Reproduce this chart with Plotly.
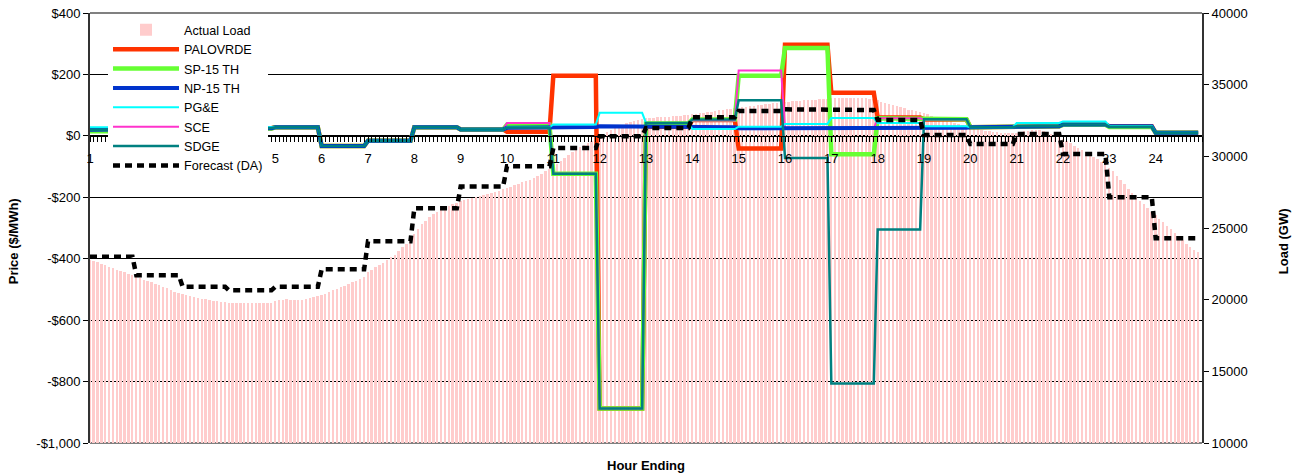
import numpy as np
import plotly.graph_objects as go

# ---------------- data ----------------
hours = list(range(1, 25))
hour_labels = ["1", "", "", "", "5", "6", "7", "8", "9", "10", "11", "12", "13", "14", "15",
               "16", "17", "18", "19", "20", "21", "22", "23", "24"]
intervals_per_hour = 12

# Actual load (GW), 5-minute intervals, one row per hour
actual_load_rows = [
    [22800, 22700, 22600, 22500, 22420, 22300, 22200, 22100, 22000, 21900, 21800, 21700],
    [21600, 21500, 21400, 21300, 21200, 21100, 21000, 20900, 20800, 20650, 20550, 20450],
    [20400, 20330, 20270, 20200, 20140, 20080, 20030, 19980, 19930, 19890, 19850, 19820],
    [19800, 19780, 19760, 19750, 19750, 19750, 19750, 19750, 19750, 19750, 19750, 19780],
    [19900, 19950, 20000, 20020, 20000, 19980, 20000, 20000, 20050, 20100, 20180, 20260],
    [20330, 20430, 20540, 20650, 20760, 20870, 20980, 21100, 21200, 21320, 21440, 21550],
    [21950, 22100, 22250, 22400, 22550, 22750, 22950, 23150, 23400, 23650, 23900, 24200],
    [24600, 24950, 25250, 25500, 25750, 25950, 26150, 26300, 26450, 26550, 26650, 26750],
    [26850, 26920, 27000, 27080, 27150, 27220, 27280, 27350, 27420, 27500, 27600, 27700],
    [27780, 27880, 27980, 28080, 28180, 28280, 28380, 28500, 28650, 28800, 28950, 29120],
    [29300, 29500, 29700, 29900, 30100, 30300, 30480, 30650, 30800, 30950, 31100, 31250],
    [31400, 31550, 31700, 31850, 31980, 32100, 32200, 32300, 32380, 32450, 32520, 32580],
    [32650, 32670, 32690, 32710, 32730, 32750, 32770, 32790, 32810, 32830, 32850, 32870],
    [32920, 32960, 33000, 33040, 33080, 33120, 33160, 33200, 33240, 33280, 33320, 33360],
    [33400, 33420, 33450, 33480, 33510, 33550, 33580, 33620, 33660, 33700, 33740, 33770],
    [33800, 33820, 33840, 33860, 33880, 33900, 33920, 33940, 33960, 33980, 34000, 34020],
    [34050, 34060, 34070, 34080, 34080, 34080, 34080, 34070, 34060, 34040, 34010, 33980],
    [33900, 33820, 33740, 33660, 33580, 33500, 33420, 33340, 33260, 33200, 33150, 33100],
    [33000, 32920, 32840, 32760, 32680, 32600, 32520, 32440, 32360, 32280, 32200, 32120],
    [32040, 31960, 31880, 31820, 31780, 31740, 31700, 31680, 31660, 31640, 31630, 31620],
    [31650, 31700, 31750, 31800, 31830, 31850, 31840, 31800, 31700, 31580, 31450, 31330],
    [31200, 31050, 30900, 30750, 30600, 30450, 30300, 30150, 29980, 29800, 29620, 29430],
    [29200, 28950, 28650, 28350, 28050, 27750, 27450, 27150, 26900, 26650, 26400, 26150],
    [25900, 25650, 25400, 25150, 24900, 24650, 24400, 24150, 23900, 23700, 23500, 23300],
]

# Hourly prices ($/MWh)
palovrde = [20, 22, 24, 25, 28, -33, -16, 28, 21, 13, 196, -888, 30, 52, -41, 297, 140, 60, 53, 28, 31, 37, 31, 10]
sp15_th = [15, 20, 22, 24, 28, -33, -16, 28, 21, 36, -123, -888, 40, 53, 196, 286, -60, 57, 54, 28, 31, 36, 29, 10]
np15_th = [20, 22, 24, 25, 28, -33, -16, 28, 21, 26, 29, 31, 29, 28, 25, 24, 24, 24, 26, 28, 31, 37, 31, 10]
pge = [28, 26, 26, 26, 28, -33, -16, 28, 21, 28, 37, 75, 42, 22, 30, 39, 58, 42, 31, 28, 42, 47, 32, 10]
sce = [22, 23, 24, 25, 28, -33, -16, 28, 21, 42, -123, -888, 42, 50, 213, 24, 24, 57, 53, 28, 31, 37, 31, 10]
sdge = [20, 22, 24, 25, 28, -33, -16, 28, 21, 27, -123, -888, 42, 53, 116, -72, -806, -305, 54, 28, 31, 37, 30, 10]

# Day-ahead load forecast (GW), hourly
forecast_da = [23000, 21700, 20900, 20650, 20900, 22120, 24070, 26370, 27900, 29300, 30580, 31400,
               31980, 32720, 33160, 33280, 33230, 32540, 31490, 30860, 31560, 30160, 27140, 24280]

price_ticks = [400, 200, 0, -200, -400, -600, -800, -1000]
price_tick_labels = ["$400", "$200", "$0", "-$200", "-$400", "-$600", "-$800", "-$1,000"]
load_ticks = [10000, 15000, 20000, 25000, 30000, 35000, 40000]

# ---------------- build ----------------
n = len(hours) * intervals_per_hour
x5 = hours[0] + np.arange(n) / intervals_per_hour
actual_load = np.array(actual_load_rows).ravel()


def to5(v):
    return np.repeat(np.array(v, dtype=float), intervals_per_hour)


FONT = "Arial, Liberation Sans, sans-serif"

fig = go.Figure()
fig.add_trace(go.Bar(x=x5, y=actual_load, width=1 / 24, name="Actual Load",
                     marker=dict(color="#FFCCCC", line=dict(width=0)),
                     yaxis="y", legendrank=1))

series = [
    ("PALOVRDE", palovrde, "#FF3300", 4.5, 2),
    ("SP-15 TH", sp15_th, "#66FF33", 4.5, 3),
    ("SCE", sce, "#FF33CC", 2, 6),
    ("NP-15 TH", np15_th, "#0033CC", 4, 4),
    ("PG&E", pge, "#00FFFF", 2, 5),
    ("SDGE", sdge, "#008080", 2.5, 7),
]
for name, vals, col, w, rank in series:
    fig.add_trace(go.Scatter(x=x5, y=to5(vals), name=name, mode="lines",
                             line=dict(color=col, width=w), yaxis="y2", legendrank=rank))

fig.add_trace(go.Scatter(x=x5, y=to5(forecast_da), name="Forecast (DA)", mode="lines",
                         line=dict(color="black", width=4.5, dash="7px,5px"),
                         yaxis="y3", legendrank=8))

pmin, pmax = -1000, 400
zero_pos = (0 - pmin) / (pmax - pmin)

fig.update_layout(
    width=1299, height=476,
    autosize=False,
    margin=dict(l=90, r=97, t=13, b=33, autoexpand=False),
    paper_bgcolor="white", plot_bgcolor="white",
    font=dict(family=FONT, size=13, color="black"),
    bargap=0,
    showlegend=True,
    legend=dict(x=0.0162, y=0.995, xanchor="left", yanchor="top", itemwidth=66,
                bgcolor="white", borderwidth=0, font=dict(size=12.6, family=FONT),
                tracegroupgap=0, traceorder="normal"),
    xaxis=dict(range=[1, 25], anchor="free", position=zero_pos, automargin=False,
               tickmode="array", tickvals=hours, ticktext=hour_labels,
               ticks="outside", ticklen=5, tickcolor="black", tickwidth=1,
               ticklabelstandoff=6,
               minor=dict(tickmode="linear", tick0=1, dtick=1 / 12, ticks="outside",
                          ticklen=5, tickcolor="black", tickwidth=1, showgrid=False),
               showline=True, linecolor="black", linewidth=1,
               showgrid=False, zeroline=False, tickfont=dict(size=13)),
    yaxis=dict(range=[10000, 40000], side="right", tickmode="array", tickvals=load_ticks,
               tickformat="d", automargin=False,
               ticks="outside", ticklen=5, tickcolor="black", showline=True,
               linecolor="#333333", linewidth=2, showgrid=False, zeroline=False,
               tickfont=dict(size=13)),
    yaxis2=dict(range=[pmin, pmax], overlaying="y", side="left", anchor="x", automargin=False,
                tickmode="array", tickvals=price_ticks, ticktext=price_tick_labels,
                ticks="outside", ticklen=5, tickcolor="black", showline=True,
                linecolor="#333333", linewidth=2, showgrid=True, gridcolor="black",
                gridwidth=1, zeroline=False, tickfont=dict(size=13)),
    yaxis3=dict(range=[10000, 40000], overlaying="y", side="right", visible=False,
                automargin=False),
    shapes=[
        dict(type="line", xref="paper", yref="paper", x0=0, x1=1, y0=1, y1=1,
             line=dict(color="#808080", width=2), layer="above"),
        dict(type="line", xref="paper", yref="paper", x0=0, x1=1, y0=0, y1=0,
             line=dict(color="#808080", width=2), layer="between"),
    ],
    annotations=[
        dict(text="<b>Hour Ending</b>", xref="paper", yref="paper", x=0.5, y=-0.053,
             showarrow=False, font=dict(size=13), xanchor="center", yanchor="middle"),
        dict(text="<b>Price ($/MWh)</b>", xref="paper", yref="paper", x=-0.068, y=0.47,
             showarrow=False, textangle=-90, font=dict(size=13), xanchor="center", yanchor="middle"),
        dict(text="<b>Load (GW)</b>", xref="paper", yref="paper", x=1.074, y=0.47,
             showarrow=False, textangle=-90, font=dict(size=13), xanchor="center", yanchor="middle"),
    ],
)

fig.write_html("out.html", config={"displayModeBar": False},
               post_script="document.body.style.margin='0';document.body.style.overflow='hidden';")
